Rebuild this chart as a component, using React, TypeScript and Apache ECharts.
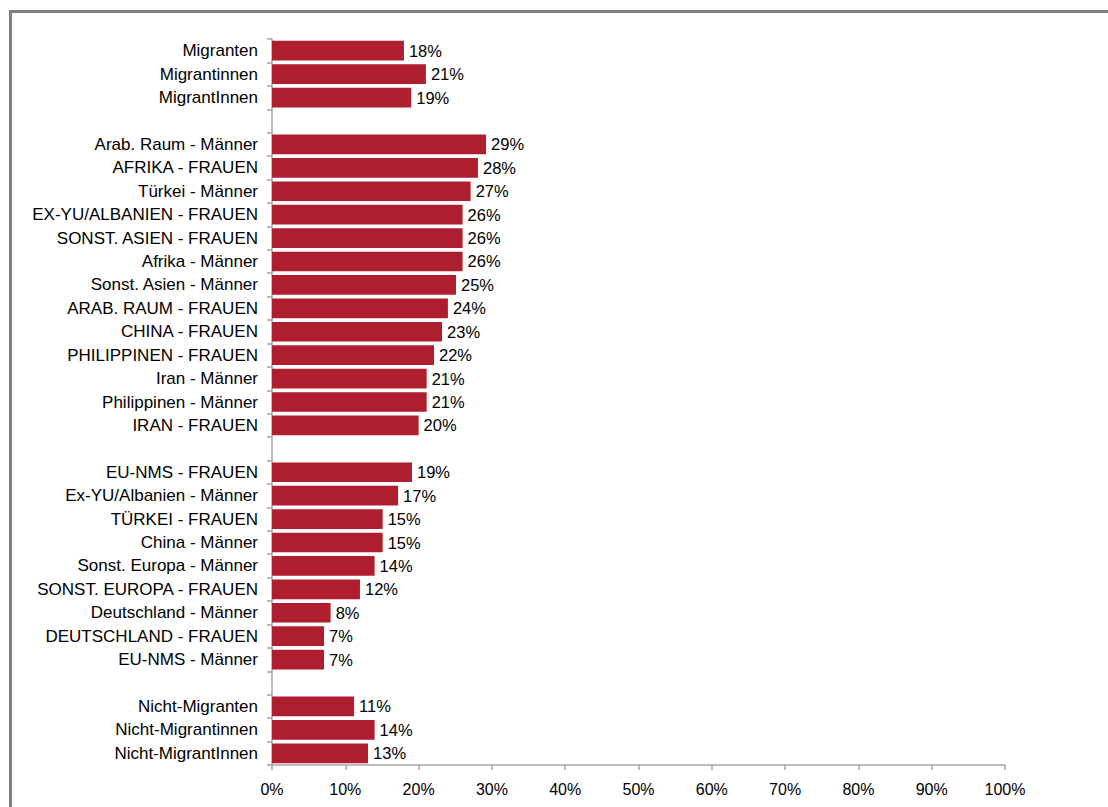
import React, { useEffect, useRef } from "react";
import * as echarts from "echarts";

const categories: string[] = [
  "Migranten", "Migrantinnen", "MigrantInnen", "",
  "Arab. Raum - Männer", "AFRIKA - FRAUEN", "Türkei - Männer", "EX-YU/ALBANIEN - FRAUEN",
  "SONST. ASIEN - FRAUEN", "Afrika - Männer", "Sonst. Asien - Männer", "ARAB. RAUM - FRAUEN",
  "CHINA - FRAUEN", "PHILIPPINEN - FRAUEN", "Iran - Männer", "Philippinen - Männer", "IRAN - FRAUEN", " ",
  "EU-NMS - FRAUEN", "Ex-YU/Albanien - Männer", "TÜRKEI - FRAUEN", "China - Männer",
  "Sonst. Europa - Männer", "SONST. EUROPA - FRAUEN", "Deutschland - Männer", "DEUTSCHLAND - FRAUEN",
  "EU-NMS - Männer", "  ",
  "Nicht-Migranten", "Nicht-Migrantinnen", "Nicht-MigrantInnen",
];

const values: (number | null)[] = [
  18, 21, 19, null,
  29.2, 28.1, 27.1, 26, 26, 26, 25.1, 24, 23.2, 22.1, 21.1, 21.1, 20, null,
  19.1, 17.2, 15.1, 15.1, 14, 12, 8, 7.1, 7.1, null,
  11.2, 14, 13.1,
];

const xTicks = { min: 0, max: 100, interval: 10 };

export default function App() {
  const ref = useRef<HTMLDivElement>(null);
  useEffect(() => {
    if (!ref.current) return;
    const chart = echarts.init(ref.current, undefined, { renderer: "svg" });
    const font = "'Liberation Sans', Arial, sans-serif";
    chart.setOption({
      animation: false,
      backgroundColor: "#ffffff",
      textStyle: { fontFamily: font },
      grid: { left: 272, top: 39, right: 103, bottom: 42, containLabel: false, outerBoundsMode: "none" },
      xAxis: {
        type: "value",
        min: xTicks.min,
        max: xTicks.max,
        interval: xTicks.interval,
        axisLine: { show: true, lineStyle: { color: "#a6a6a6", width: 1.5 } },
        axisTick: { show: true, length: 5, lineStyle: { color: "#a6a6a6", width: 1.5 } },
        splitLine: { show: false },
        axisLabel: { formatter: "{value}%", color: "#000", fontSize: 16, margin: 16, fontFamily: font },
      },
      yAxis: {
        type: "category",
        inverse: true,
        data: categories,
        axisLine: { show: true, lineStyle: { color: "#a6a6a6", width: 1.5 } },
        axisTick: { show: true, length: 5, interval: 0, lineStyle: { color: "#a6a6a6", width: 1.5 } },
        axisLabel: { color: "#000", fontSize: 17, margin: 14, interval: 0, fontFamily: font },
      },
      series: [
        {
          type: "bar",
          data: values,
          barCategoryGap: "16%",
          itemStyle: { color: "#af1e2e" },
          label: {
            show: true,
            position: "right",
            distance: 5,
            color: "#000",
            fontSize: 16.5,
            fontFamily: font,
            formatter: (p: any) => (p.value == null ? "" : Math.round(p.value) + "%"),
          },
        },
      ],
      graphic: [
        { type: "line", shape: { x1: 9, y1: 11.5, x2: 1108, y2: 11.5 }, style: { stroke: "#808080", lineWidth: 3 } },
        { type: "line", shape: { x1: 10.5, y1: 10, x2: 10.5, y2: 807 }, style: { stroke: "#808080", lineWidth: 3 } },
      ],
    });
    return () => chart.dispose();
  }, []);
  return <div ref={ref} style={{ position: "fixed", left: 0, top: 0, width: 1108, height: 807 }} />;
}
